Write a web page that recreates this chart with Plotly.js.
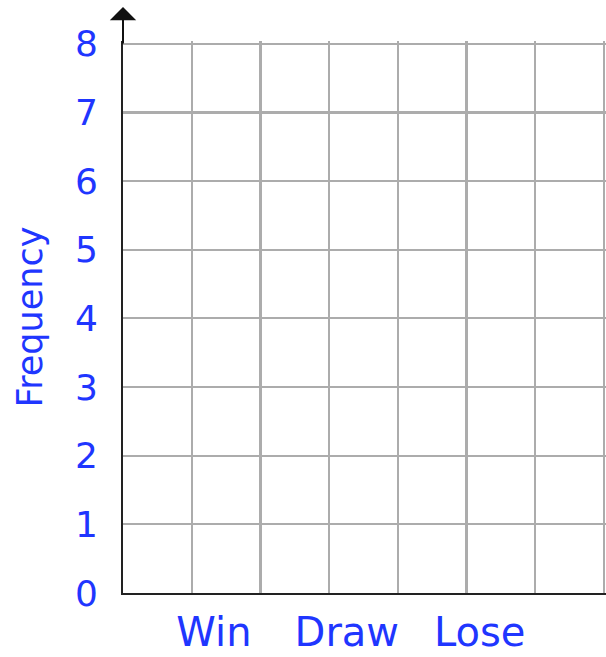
<!DOCTYPE html>
<html>
<head>
<meta charset="utf-8">
<script src="https://cdn.plot.ly/plotly-3.0.1.min.js"></script>
<style>html,body{margin:0;padding:0;background:#fff;}#chart{width:606px;height:657px;}</style>
</head>
<body>
<div id="chart"></div>
<script>
// Categories on the x axis (blank worksheet grid: no bars drawn yet)
const categories = ['Win', 'Draw', 'Lose'];
const frequency = [0, 0, 0];
// Frequency tick labels
const yTicks = [0, 1, 2, 3, 4, 5, 6, 7, 8];
const gridColumns = [0, 1, 2, 3, 4, 5, 6, 7];

const blue = '#1f36ff';
const font = 'DejaVu Sans, sans-serif';

const traces = [
  {
    type: 'bar',
    x: categories,
    y: frequency,
    xaxis: 'x2',
    yaxis: 'y',
    marker: {color: 'rgba(0,0,0,0)', line: {width: 0}},
    hoverinfo: 'skip',
    showlegend: false
  }
];

const layout = {
  width: 606,
  height: 657,
  margin: {l: 123, r: 0, t: 41, b: 64},
  paper_bgcolor: '#ffffff',
  plot_bgcolor: '#ffffff',
  showlegend: false,
  xaxis: {
    range: [0, 7.03],
    tickvals: gridColumns,
    showticklabels: false,
    ticks: '',
    showgrid: true,
    gridcolor: '#acacac',
    gridwidth: 2.2,
    zeroline: false,
    showline: true,
    linecolor: '#222222',
    linewidth: 2,
    fixedrange: true
  },
  xaxis2: {
    type: 'category',
    overlaying: 'x',
    anchor: 'y',
    side: 'bottom',
    range: [-0.684, 2.95],
    showgrid: false,
    zeroline: false,
    showline: false,
    ticks: '',
    ticklabelstandoff: 12,
    tickfont: {family: font, size: 40, color: blue},
    fixedrange: true
  },
  yaxis: {
    range: [0, 8.04],
    tickvals: yTicks,
    ticktext: yTicks.map(String),
    ticks: '',
    ticklabelstandoff: 16,
    tickfont: {family: font, size: 36, color: blue},
    showgrid: true,
    gridcolor: '#acacac',
    gridwidth: 2.2,
    zeroline: false,
    showline: true,
    linecolor: '#222222',
    linewidth: 2,
    title: {text: 'Frequency', font: {family: font, size: 35, color: blue}, standoff: 22},
    fixedrange: true
  },
  annotations: [
    {
      xref: 'x', yref: 'paper',
      x: 0, y: 1 + 34 / 552,
      axref: 'pixel', ayref: 'pixel',
      ax: 0, ay: 38,
      text: '',
      showarrow: true,
      arrowhead: 1,
      arrowsize: 2.2,
      arrowwidth: 2,
      arrowcolor: '#111111',
      standoff: 0
    }
  ]
};

Plotly.newPlot('chart', traces, layout, {staticPlot: true, displayModeBar: false});
</script>
</body>
</html>
